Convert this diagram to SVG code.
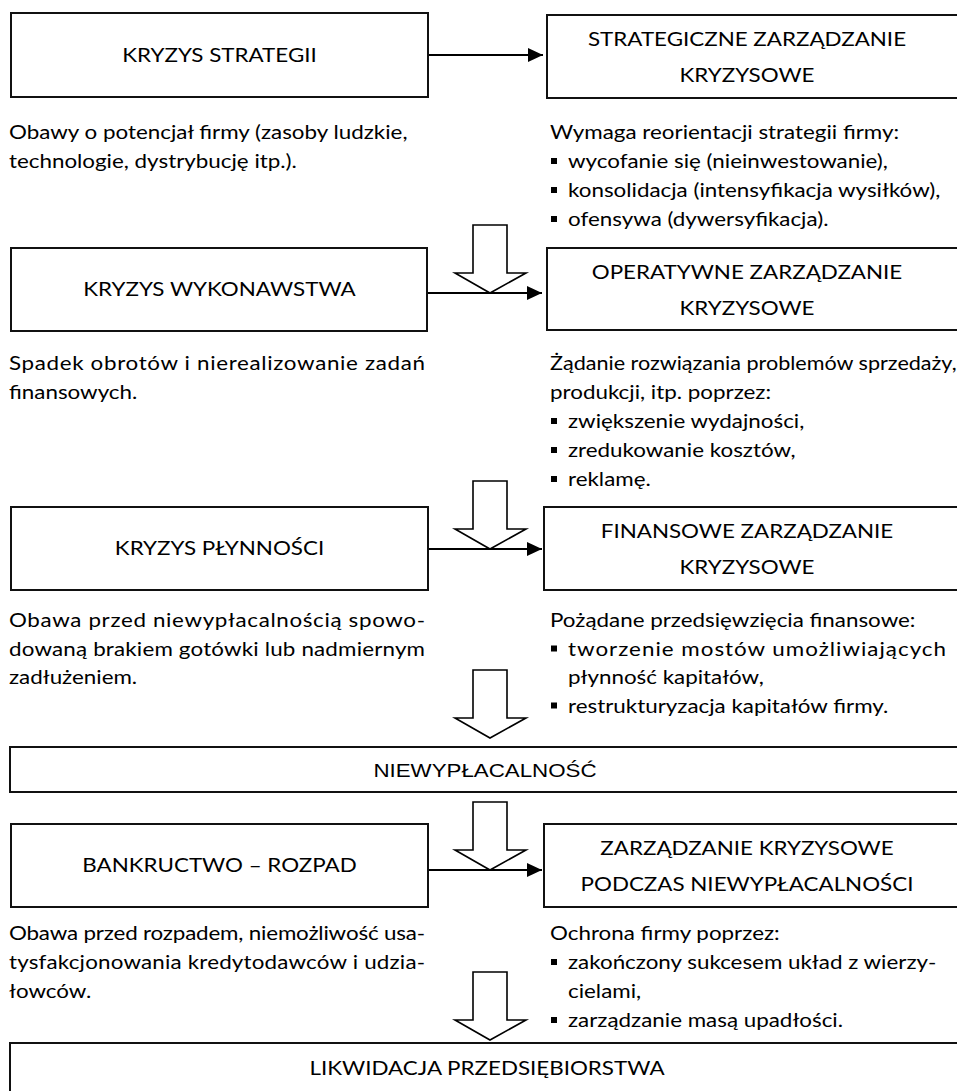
<svg xmlns="http://www.w3.org/2000/svg" width="957" height="1091" viewBox="0 0 957 1091">
  <style>
    .box { fill: #fff; stroke: #111; stroke-width: 2; }
    .line { stroke: #000; stroke-width: 2; fill: none; }
    .block { fill: #fff; stroke: #000; stroke-width: 1.6; stroke-linejoin: miter; }
    .t { font-family: Lato, "Open Sans", "Liberation Sans", sans-serif; font-size: 18.5px; fill: #000; }
    .c { text-anchor: middle; }
    .a { font-family: "Liberation Sans", Arial, sans-serif; font-size: 18.6px; }
    .dot { fill: #000; }
  </style>
  <defs>
    <marker id="head" markerUnits="userSpaceOnUse" markerWidth="16" markerHeight="16" refX="15" refY="7" orient="auto">
      <path d="M0,0 L15,7 L0,14 Z" fill="#000"/>
    </marker>
  </defs>
  <rect width="957" height="1091" fill="#fff"/>

  <!-- flow arrows -->
  <g id="connectors">
    <line class="line" x1="428" y1="55" x2="543" y2="55" marker-end="url(#head)"/>
    <line class="line" x1="427" y1="293" x2="542" y2="293" marker-end="url(#head)"/>
    <line class="line" x1="428" y1="549" x2="542" y2="549" marker-end="url(#head)"/>
    <line class="line" x1="428" y1="870" x2="542" y2="870" marker-end="url(#head)"/>
    <polygon class="block" points="473,225 507,225 507,273 526,273 490,293 455,273 473,273"/>
    <polygon class="block" points="473,481 507,481 507,529 526,529 490,549 455,529 473,529"/>
    <polygon class="block" points="473,670 507,670 507,718 526,718 490,738 455,718 473,718"/>
    <polygon class="block" points="473,802 507,802 507,850 526,850 490,870 455,850 473,850"/>
    <polygon class="block" points="473,972 507,972 507,1020 526,1020 490,1040 455,1020 473,1020"/>
  </g>

  <!-- row 1 -->
  <g id="kryzys-strategii">
    <rect class="box" x="11" y="13" width="417" height="84"/>
    <text class="t c" transform="translate(219.5 62) scale(1.21 1)">KRYZYS STRATEGII</text>
    <text class="t" transform="translate(9 139) scale(1.21 1)">Obawy o potencjał firmy (zasoby ludzkie,</text>
    <text class="t" transform="translate(9 168) scale(1.21 1)">technologie, dystrybucję itp.).</text>
  </g>
  <g id="strategiczne-zarzadzanie">
    <rect class="box" x="547" y="15" width="420" height="83"/>
    <text class="t c" transform="translate(747 46) scale(1.21 1)">STRATEGICZNE ZARZĄDZANIE</text>
    <text class="t c" transform="translate(747 82) scale(1.21 1)">KRYZYSOWE</text>
    <text class="t" transform="translate(550 139) scale(1.21 1)">Wymaga reorientacji strategii firmy:</text>
    <rect class="dot" x="551" y="158" width="6" height="6"/>
    <text class="t" transform="translate(568 168) scale(1.21 1)">wycofanie się (nieinwestowanie),</text>
    <rect class="dot" x="551" y="187" width="6" height="6"/>
    <text class="t" transform="translate(568 197) scale(1.21 1)">konsolidacja (intensyfikacja wysiłków),</text>
    <rect class="dot" x="551" y="216" width="6" height="6"/>
    <text class="t" transform="translate(568 226) scale(1.21 1)">ofensywa (dywersyfikacja).</text>
  </g>

  <!-- row 2 -->
  <g id="kryzys-wykonawstwa">
    <rect class="box" x="11" y="248" width="416" height="83"/>
    <text class="t c" transform="translate(219.5 296) scale(1.21 1)">KRYZYS WYKONAWSTWA</text>
    <text class="t" transform="translate(9 370) scale(1.21 1)" textLength="343.8" lengthAdjust="spacing">Spadek obrotów i nierealizowanie zadań</text>
    <text class="t" transform="translate(9 399) scale(1.21 1)">finansowych.</text>
  </g>
  <g id="operatywne-zarzadzanie">
    <rect class="box" x="547" y="248" width="420" height="82"/>
    <text class="t c" transform="translate(747 279) scale(1.21 1)">OPERATYWNE ZARZĄDZANIE</text>
    <text class="t c" transform="translate(747 315) scale(1.21 1)">KRYZYSOWE</text>
    <text class="t" transform="translate(550 370) scale(1.21 1)" textLength="336" lengthAdjust="spacingAndGlyphs">Żądanie rozwiązania problemów sprzedaży,</text>
    <text class="t" transform="translate(550 399) scale(1.21 1)">produkcji, itp. poprzez:</text>
    <rect class="dot" x="551" y="418" width="6" height="6"/>
    <text class="t" transform="translate(568 428) scale(1.21 1)">zwiększenie wydajności,</text>
    <rect class="dot" x="551" y="447" width="6" height="6"/>
    <text class="t" transform="translate(568 457) scale(1.21 1)">zredukowanie kosztów,</text>
    <rect class="dot" x="551" y="476" width="6" height="6"/>
    <text class="t" transform="translate(568 486) scale(1.21 1)">reklamę.</text>
  </g>

  <!-- row 3 -->
  <g id="kryzys-plynnosci">
    <rect class="box" x="11" y="507" width="417" height="83"/>
    <text class="t c" transform="translate(219.5 555) scale(1.21 1)">KRYZYS PŁYNNOŚCI</text>
    <text class="t" transform="translate(9 627) scale(1.21 1)" textLength="343.8" lengthAdjust="spacing">Obawa przed niewypłacalnością spowo-</text>
    <text class="t" transform="translate(9 655.5) scale(1.21 1)" textLength="343.8" lengthAdjust="spacing">dowaną brakiem gotówki lub nadmiernym</text>
    <text class="t" transform="translate(9 684) scale(1.21 1)">zadłużeniem.</text>
  </g>
  <g id="finansowe-zarzadzanie">
    <rect class="box" x="544" y="507" width="423" height="83"/>
    <text class="t c" transform="translate(747 538) scale(1.21 1)">FINANSOWE ZARZĄDZANIE</text>
    <text class="t c" transform="translate(747 574) scale(1.21 1)">KRYZYSOWE</text>
    <text class="t" transform="translate(550 627) scale(1.21 1)">Pożądane przedsięwzięcia finansowe:</text>
    <rect class="dot" x="551" y="645.5" width="6" height="6"/>
    <text class="t" transform="translate(568 655.5) scale(1.21 1)" textLength="312.4" lengthAdjust="spacing">tworzenie mostów umożliwiających</text>
    <text class="t" transform="translate(568 684) scale(1.21 1)">płynność kapitałów,</text>
    <rect class="dot" x="551" y="702.5" width="6" height="6"/>
    <text class="t" transform="translate(568 712.5) scale(1.21 1)">restrukturyzacja kapitałów firmy.</text>
  </g>

  <!-- insolvency band -->
  <g id="niewyplacalnosc">
    <rect class="box" x="10" y="747" width="960" height="45"/>
    <text class="t a c" transform="translate(485 777) scale(1.2 1)">NIEWYPŁACALNOŚĆ</text>
  </g>

  <!-- row 5 -->
  <g id="bankructwo">
    <rect class="box" x="11" y="824" width="417" height="83"/>
    <text class="t c" transform="translate(219.5 872) scale(1.21 1)">BANKRUCTWO – ROZPAD</text>
    <text class="t" transform="translate(9 940) scale(1.21 1)" textLength="343.8" lengthAdjust="spacing">Obawa przed rozpadem, niemożliwość usa-</text>
    <text class="t" transform="translate(9 969) scale(1.21 1)" textLength="343.8" lengthAdjust="spacing">tysfakcjonowania kredytodawców i udzia-</text>
    <text class="t" transform="translate(9 998) scale(1.21 1)">łowców.</text>
  </g>
  <g id="zarzadzanie-niewyplacalnosc">
    <rect class="box" x="544" y="824" width="423" height="83"/>
    <text class="t c" transform="translate(747 855) scale(1.21 1)">ZARZĄDZANIE KRYZYSOWE</text>
    <text class="t c" transform="translate(747 891) scale(1.21 1)">PODCZAS NIEWYPŁACALNOŚCI</text>
    <text class="t" transform="translate(550 940) scale(1.21 1)">Ochrona firmy poprzez:</text>
    <rect class="dot" x="551" y="959" width="6" height="6"/>
    <text class="t" transform="translate(568 969) scale(1.21 1)">zakończony sukcesem układ z wierzy-</text>
    <text class="t" transform="translate(568 998) scale(1.21 1)">cielami,</text>
    <rect class="dot" x="551" y="1017" width="6" height="6"/>
    <text class="t" transform="translate(568 1027) scale(1.21 1)">zarządzanie masą upadłości.</text>
  </g>

  <!-- liquidation band -->
  <g id="likwidacja">
    <rect class="box" x="10" y="1043" width="960" height="60"/>
    <text class="t c" transform="translate(487 1075) scale(1.21 1)">LIKWIDACJA PRZEDSIĘBIORSTWA</text>
  </g>
</svg>
